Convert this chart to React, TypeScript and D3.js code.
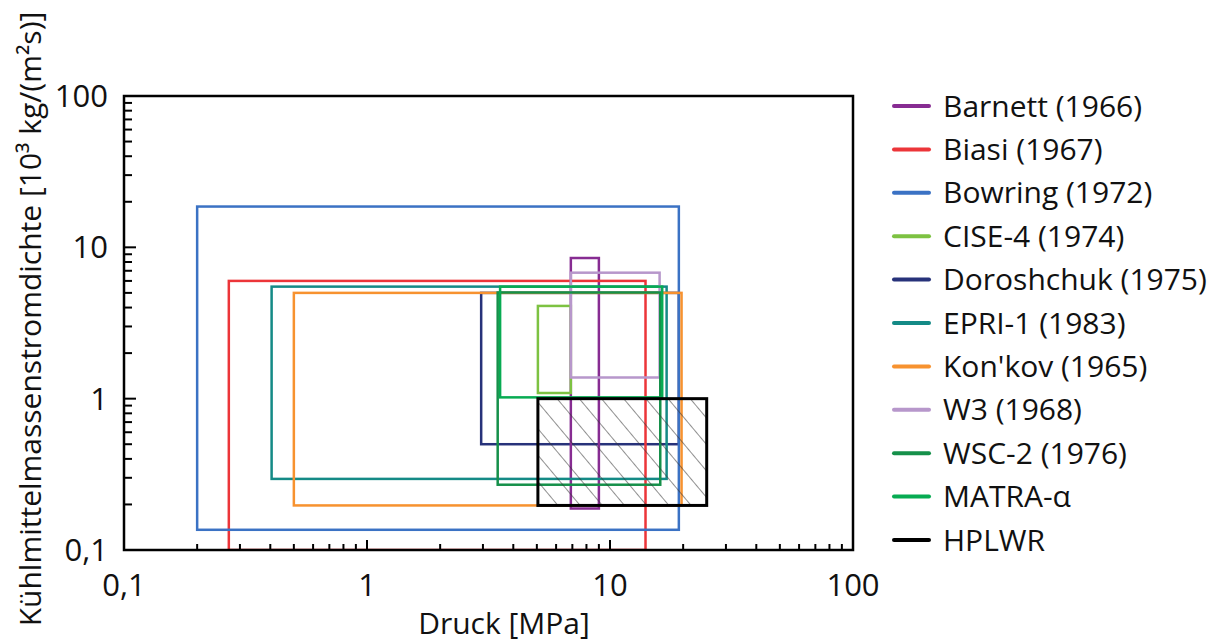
import React from "react";
import * as d3 from "d3";

const seriesNames = [
  "Barnett (1966)",
  "Biasi (1967)",
  "Bowring (1972)",
  "CISE-4 (1974)",
  "Doroshchuk (1975)",
  "EPRI-1 (1983)",
  "Kon'kov (1965)",
  "W3 (1968)",
  "WSC-2 (1976)",
  "MATRA-\u03b1",
  "HPLWR",
];
const seriesColors = [
  "#872c92",
  "#ec3539",
  "#3b72c4",
  "#7dc242",
  "#27327a",
  "#148a86",
  "#f7922f",
  "#b797cb",
  "#15904a",
  "#07ab52",
  "#000000",
];
// pressure range [MPa]
const pressureMin = [6.9, 0.27, 0.2, 5.05, 2.95, 0.405, 0.5, 6.9, 3.45, 3.53, 5.05];
const pressureMax = [9.0, 14.0, 19.2, 6.9, 19.2, 17.1, 19.7, 16.0, 16.1, 16.4, 25.0];
// mass flux range [10^3 kg/(m^2 s)]
const fluxMin = [0.188, 0.1, 0.136, 1.09, 0.5, 0.295, 0.197, 1.38, 0.27, 1.02, 0.197];
const fluxMax = [8.5, 6.0, 18.6, 4.1, 5.0, 5.5, 5.0, 6.8, 5.03, 5.5, 1.0];
const drawOrder = [4, 0, 1, 2, 3, 5, 6, 7, 8, 9, 10];

const xTickValues = [0.1, 1, 10, 100];
const xTickLabels = ["0,1", "1", "10", "100"];
const yTickValues = [0.1, 1, 10, 100];
const yTickLabels = ["0,1", "1", "10", "100"];

const xTitle = "Druck [MPa]";
const yTitle = "K\u00fchlmittelmassenstromdichte [10\u00b3 kg/(m\u00b2s)]";

const W = 1217;
const H = 643;
const L = 124, R = 853, T = 96, B = 550;
const FONT = "'Open Sans', 'Noto Sans', sans-serif";

export default function App() {
  const x = d3.scaleLog().domain([0.1, 100]).range([L, R]);
  const y = d3.scaleLog().domain([0.1, 100]).range([B, T]);

  const minor: number[] = [];
  for (const dec of [0.1, 1, 10]) {
    for (let k = 2; k <= 9; k++) minor.push(dec * k);
  }

  const legendY0 = 106;
  const legendStep = 43.4;

  return (
    <svg
      width={W}
      height={H}
      style={{ position: "absolute", left: 0, top: 0, background: "#fff" }}
      fontFamily={FONT}
    >
      <defs>
        <clipPath id="plotClip">
          <rect x={L} y={T} width={R - L} height={B - T} />
        </clipPath>
        <pattern
          id="hatch"
          patternUnits="userSpaceOnUse"
          width={17}
          height={17}
          patternTransform="rotate(-40)"
        >
          <line x1={0} y1={-1} x2={0} y2={18} stroke="#333" strokeWidth={1.1} />
        </pattern>
      </defs>
      <rect x={0} y={0} width={W} height={H} fill="#fff" />

      <g clipPath="url(#plotClip)">
        {drawOrder.map((i) => {
          const x0 = x(pressureMin[i]);
          const x1 = x(pressureMax[i]);
          const y0 = y(fluxMax[i]);
          const y1 = y(fluxMin[i]);
          const isRef = seriesNames[i] === "HPLWR";
          return (
            <g key={i}>
              {isRef && (
                <rect x={x0} y={y0} width={x1 - x0} height={y1 - y0} fill="url(#hatch)" />
              )}
              <rect
                x={x0}
                y={y0}
                width={x1 - x0}
                height={y1 - y0}
                fill="none"
                stroke={seriesColors[i]}
                strokeWidth={isRef ? 3 : 2.5}
              />
            </g>
          );
        })}
      </g>

      {/* frame */}
      <rect x={L} y={T} width={R - L} height={B - T} fill="none" stroke="#000" strokeWidth={2.5} />

      {/* x ticks (inside, upward) */}
      {xTickValues.map((v) => (
        <line key={"xM" + v} x1={x(v)} x2={x(v)} y1={B} y2={B - 10} stroke="#000" strokeWidth={2} />
      ))}
      {minor.map((v) => (
        <line key={"xm" + v} x1={x(v)} x2={x(v)} y1={B} y2={B - 6} stroke="#000" strokeWidth={2} />
      ))}
      {/* y ticks (inside, rightward) */}
      {yTickValues.map((v) => (
        <line key={"yM" + v} x1={L} x2={L + 12} y1={y(v)} y2={y(v)} stroke="#000" strokeWidth={2} />
      ))}
      {minor.map((v) => (
        <line key={"ym" + v} x1={L} x2={L + 8} y1={y(v)} y2={y(v)} stroke="#000" strokeWidth={2} />
      ))}

      {xTickValues.map((v, i) => (
        <text key={"xl" + v} x={x(v)} y={596} fontSize={31} textAnchor="middle" fill="#111">
          {xTickLabels[i]}
        </text>
      ))}
      {yTickValues.map((v, i) => (
        <text key={"yl" + v} x={108} y={y(v)} dy="0.35em" fontSize={31} textAnchor="end" fill="#111">
          {yTickLabels[i]}
        </text>
      ))}

      <text x={504} y={634} fontSize={30} textAnchor="middle" fill="#111">
        {xTitle}
      </text>
      <text
        transform={`translate(41, 319) rotate(-90)`}
        fontSize={30}
        textAnchor="middle"
        fill="#111"
      >
        {yTitle}
      </text>

      {/* legend */}
      {seriesNames.map((name, i) => {
        const yy = legendY0 + i * legendStep;
        return (
          <g key={"lg" + i}>
            <line
              x1={894}
              x2={929}
              y1={yy}
              y2={yy}
              stroke={seriesColors[i]}
              strokeWidth={4}
              strokeLinecap="round"
            />
            <text x={943} y={yy} dy="0.35em" fontSize={30} fill="#111">
              {name}
            </text>
          </g>
        );
      })}
    </svg>
  );
}
